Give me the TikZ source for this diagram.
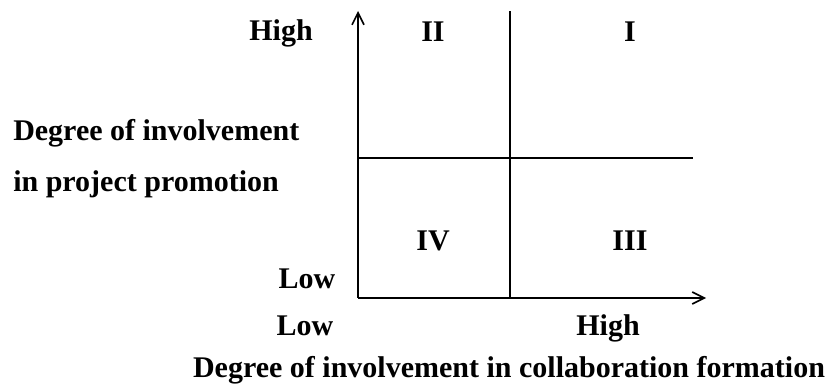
\documentclass[tikz,border=0pt]{standalone}
\usepackage{fontspec}
\setmainfont{Liberation Serif}
\usetikzlibrary{arrows.meta}

\begin{document}
\begin{tikzpicture}[x=0.75pt,y=0.75pt]

\tikzstyle{lbl}=[font=\fontsize{22.5}{26}\selectfont\bfseries, inner sep=0pt]
\tikzstyle{axis}=[-{Straight Barb[length=9pt,width=9pt]},line width=1.2pt]
\tikzstyle{divider}=[line width=1.2pt]

\useasboundingbox (0,0) rectangle (832,389);

\coordinate (O) at (358,91);
\coordinate (Ytop) at (358,378);
\coordinate (Xend) at (706,91);
\coordinate (Vtop) at (510,378);
\coordinate (Vbot) at (510,91);
\coordinate (Hleft) at (358,231);
\coordinate (Hright) at (693,231);

\draw [axis] (O) -- (Ytop);
\draw [axis] (O) -- (Xend);
\draw [divider] (Vbot) -- (Vtop);
\draw [divider] (Hleft) -- (Hright);

\node (yhigh) [lbl] at (281,356) {High};
\node (ylow) [lbl] at (307,110) {Low};
\node (q2) [lbl] at (433,357) {II};
\node (q1) [lbl] at (630,357) {I};
\node (q4) [lbl] at (433,148) {IV};
\node (q3) [lbl] at (630,148) {III};
\node (ytitle1) [lbl, anchor=west] at (13,256) {Degree of involvement};
\node (ytitle2) [lbl, anchor=west] at (13,205) {in project promotion};
\node (xlow) [lbl] at (305,63) {Low};
\node (xhigh) [lbl] at (608,61) {High};
\node (xtitle) [lbl] at (509,19) {Degree of involvement in collaboration formation};

\end{tikzpicture}
\end{document}
